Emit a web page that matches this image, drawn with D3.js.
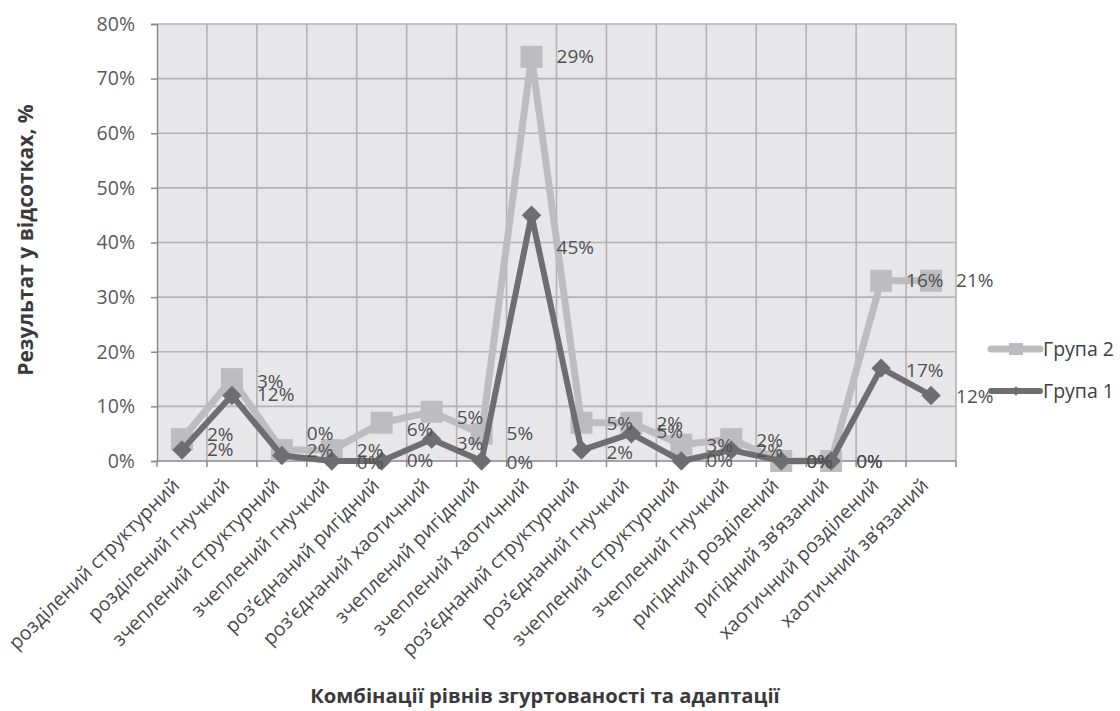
<!DOCTYPE html>
<html>
<head>
<meta charset="utf-8">
<script src="https://cdn.jsdelivr.net/npm/d3@7/dist/d3.min.js"></script>
<style>
  html, body { margin: 0; padding: 0; background: #fff; }
  svg { display: block; }
  text { font-family: "Open Sans", "Noto Sans", sans-serif; }
</style>
</head>
<body>
<svg id="chart" width="1120" height="711"></svg>
<script>
// Combinations of cohesion and adaptation levels
const categories = [
  "розділений структурний", "розділений гнучкий", "зчеплений структурний",
  "зчеплений гнучкий", "роз\u2019єднаний ригідний", "роз\u2019єднаний хаотичний",
  "зчеплений ригідний", "зчеплений хаотичний", "роз\u2019єднаний структурний",
  "роз\u2019єднаний гнучкий", "зчеплений структурний", "зчеплений гнучкий",
  "ригідний розділений", "ригідний зв\u2019язаний", "хаотичний розділений",
  "хаотичний зв\u2019язаний"
];

// Series values, percent
const group2 = [4, 15, 2, 2, 7, 9, 5, 74, 7, 7, 3, 4, 0, 0, 33, 33];
const group1 = [2, 12, 1, 0, 0, 4, 0, 45, 2, 5, 0, 2, 0, 0, 17, 12];

// Data label texts attached to each point
const group2Labels = ["2%", "3%", "0%", "2%", "6%", "5%", "5%", "29%", "5%", "2%", "3%", "2%", "0%", "0%", "16%", "21%"];
const group1Labels = ["2%", "12%", "2%", "0%", "0%", "3%", "0%", "45%", "2%", "5%", "0%", "2%", "0%", "0%", "17%", "12%"];

// Y axis ticks
const yTicks = [0, 10, 20, 30, 40, 50, 60, 70, 80];

const seriesNames = ["Група 2", "Група 1"];

// Manual label nudges (px) to keep overlapping labels readable
const group2LabelNudge = [-5, 2, -17, 0, 7, 6, 0, 0, 1, 1, 1, 1, 0, 0, 0, 0];
const group1LabelNudge = [-1, -1, -5, 1, -1, 4, 1, 32, 2, -2, -1, 0, 0, 0, 2, 1];

const svg = d3.select("#chart");
const margin = { left: 157, right: 956, top: 24, bottom: 461 };

const x = d3.scaleBand().domain(d3.range(categories.length)).range([margin.left, margin.right]);
const y = d3.scaleLinear().domain([0, 80]).range([margin.bottom, margin.top]);
const cx = i => x(i) + x.bandwidth() / 2;

// Plot area
svg.append("rect")
  .attr("x", margin.left).attr("y", margin.top)
  .attr("width", margin.right - margin.left).attr("height", margin.bottom - margin.top)
  .attr("fill", "#e7e7e9");

// Gridlines
const grid = svg.append("g").attr("stroke", "#b3b3b5").attr("stroke-width", 1.6);
grid.selectAll("line.h").data(yTicks.filter(d => d > 0)).join("line")
  .attr("x1", margin.left).attr("x2", margin.right)
  .attr("y1", d => y(d)).attr("y2", d => y(d));
grid.selectAll("line.v").data(d3.range(1, categories.length + 1)).join("line")
  .attr("x1", i => margin.left + i * x.bandwidth()).attr("x2", i => margin.left + i * x.bandwidth())
  .attr("y1", margin.top).attr("y2", margin.bottom);

// Y axis
const yAxis = svg.append("g")
  .attr("transform", `translate(${margin.left},0)`)
  .call(d3.axisLeft(y).tickValues(yTicks).tickFormat(d => d + "%").tickSize(6).tickPadding(16));
yAxis.select(".domain").attr("stroke", "#8a8a8c").attr("stroke-width", 1.5);
yAxis.selectAll(".tick line").attr("stroke", "#8a8a8c").attr("stroke-width", 1.5);
yAxis.selectAll(".tick text")
  .attr("font-size", 19.5).attr("fill", "#5a5a5c")
  .attr("font-family", "'Open Sans', sans-serif");

// X axis
const xAxisLine = svg.append("g");
xAxisLine.append("line")
  .attr("x1", margin.left).attr("x2", margin.right)
  .attr("y1", margin.bottom).attr("y2", margin.bottom)
  .attr("stroke", "#8a8a8c").attr("stroke-width", 1.5);
xAxisLine.selectAll("line.t").data(d3.range(0, categories.length + 1)).join("line")
  .attr("x1", i => margin.left + i * x.bandwidth()).attr("x2", i => margin.left + i * x.bandwidth())
  .attr("y1", margin.bottom).attr("y2", margin.bottom + 6)
  .attr("stroke", "#8a8a8c").attr("stroke-width", 1.5);

svg.append("g").selectAll("text").data(categories).join("text")
  .attr("transform", (d, i) => `translate(${cx(i) - 6},${margin.bottom + 21}) rotate(-45)`)
  .attr("text-anchor", "end")
  .attr("dy", "0.35em")
  .attr("font-size", 19.5)
  .attr("fill", "#4a4a4c")
  .text(d => d);

// Lines and markers
const line = d3.line().x((d, i) => cx(i)).y(d => y(d));

svg.append("path").datum(group2)
  .attr("d", line).attr("fill", "none")
  .attr("stroke", "#bdbdbf").attr("stroke-width", 7).attr("stroke-linejoin", "round");
svg.append("g").selectAll("rect").data(group2).join("rect")
  .attr("x", (d, i) => cx(i) - 11).attr("y", d => y(d) - 11)
  .attr("width", 22).attr("height", 22)
  .attr("fill", "#bdbdbf");

svg.append("path").datum(group1)
  .attr("d", line).attr("fill", "none")
  .attr("stroke", "#6e6e70").attr("stroke-width", 6).attr("stroke-linejoin", "round");
const diamond = d3.symbol().type(d3.symbolDiamond2).size(240);
svg.append("g").selectAll("path").data(group1).join("path")
  .attr("d", diamond)
  .attr("transform", (d, i) => `translate(${cx(i)},${y(d)})`)
  .attr("fill", "#6e6e70");

// Data labels
function drawLabels(values, labels, nudge) {
  svg.append("g").selectAll("text").data(values).join("text")
    .attr("x", (d, i) => cx(i) + 25)
    .attr("y", (d, i) => y(d) + nudge[i])
    .attr("dy", "0.35em")
    .attr("font-size", 19)
    .attr("fill", "#505052")
    .text((d, i) => labels[i]);
}
drawLabels(group2, group2Labels, group2LabelNudge);
drawLabels(group1, group1Labels, group1LabelNudge);

// Legend
const legend = svg.append("g");
const legendRows = [
  { name: seriesNames[0], color: "#bdbdbf", y: 349, shape: "square" },
  { name: seriesNames[1], color: "#6e6e70", y: 391, shape: "diamond" }
];
legendRows.forEach(r => {
  legend.append("line")
    .attr("x1", 991).attr("x2", 1040).attr("y1", r.y).attr("y2", r.y)
    .attr("stroke", r.color).attr("stroke-width", r.shape === "square" ? 7 : 6)
    .attr("stroke-linecap", "round");
  if (r.shape === "square") {
    legend.append("rect").attr("x", 1009).attr("y", r.y - 6).attr("width", 14).attr("height", 12).attr("fill", r.color);
  } else {
    legend.append("path").attr("d", d3.symbol().type(d3.symbolDiamond2).size(60))
      .attr("transform", `translate(1016,${r.y})`).attr("fill", r.color);
  }
  legend.append("text")
    .attr("x", 1043).attr("y", r.y).attr("dy", "0.35em")
    .attr("font-size", 19.5).attr("fill", "#404042")
    .text(r.name);
});

// Axis titles
svg.append("text")
  .attr("transform", "translate(33,240) rotate(-90)")
  .attr("text-anchor", "middle")
  .attr("font-size", 21).attr("font-weight", "bold").attr("fill", "#3a3a3c")
  .text("Результат у відсотках, %");

svg.append("text")
  .attr("x", 545).attr("y", 696).attr("dy", "0.35em")
  .attr("text-anchor", "middle")
  .attr("font-size", 20.2).attr("font-weight", "bold").attr("fill", "#3a3a3c")
  .text("Комбінації рівнів згуртованості та адаптації");
</script>
</body>
</html>
